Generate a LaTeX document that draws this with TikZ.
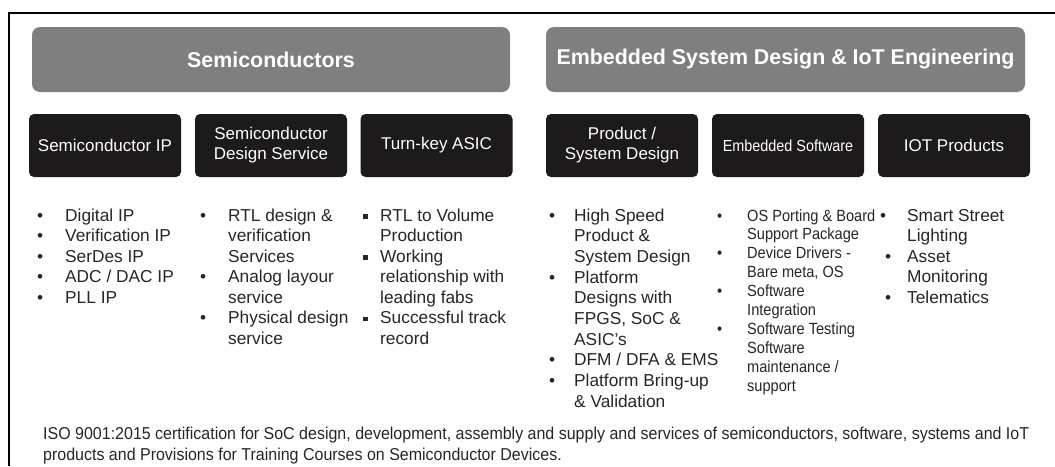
\documentclass[tikz,border=0pt]{standalone}
\usepackage{fontspec}
\setmainfont{Liberation Sans}
\newfontfamily\narrowfont{Liberation Sans}[FakeStretch=0.9]
\newfontfamily\notefont{Liberation Sans}[FakeStretch=0.93]
\definecolor{headgray}{HTML}{7F7F7F}
\definecolor{boxblack}{HTML}{1C1A1A}
\definecolor{txtgray}{HTML}{262626}
\newcommand{\sqbul}{\rule[2.5pt]{4.5pt}{4.5pt}}

\begin{document}
\begin{tikzpicture}[head/.style={fill=headgray, rounded corners=8pt, minimum width=478pt, minimum height=65pt, text=white, font=\fontsize{21.4}{25}\selectfont\bfseries}, tab/.style={fill=boxblack, rounded corners=5pt, minimum width=152pt, minimum height=63pt, text=white, align=center, font=\fontsize{17}{20}\selectfont}, list/.style={anchor=base west, inner sep=0pt, text=txtgray, font=\fontsize{17.3}{20.5}\selectfont}, note/.style={anchor=base west, inner sep=0pt, text=txtgray, font=\notefont\fontsize{17.2}{21}\selectfont}]
  \useasboundingbox (0pt, 0pt) rectangle (1055pt, -466pt);
  \draw[line width=2pt] (9pt, -466pt) -- (9pt, -13pt) -- (1055pt, -13pt);

  \draw (271.0pt, -59.5pt)node[head](semi){Semiconductors};
  \draw (785.5pt, -59.5pt)node[head, minimum width=479pt](embed){Embedded System Design \& IoT Engineering};

  \draw (105.0pt, -145.5pt)node[tab](ip){Semiconductor IP};
  \draw (271.0pt, -145.5pt)node[tab](dsvc){Semiconductor\\Design Service};
  \draw (436.5pt, -145.5pt)node[tab](asic){Turn-key ASIC};
  \draw (622.0pt, -145.5pt)node[tab](prod){Product /\\System Design};
  \draw (788.0pt, -145.5pt)node[tab, font=\narrowfont\fontsize{16}{19}\selectfont](esw){Embedded Software};
  \draw (954.0pt, -145.5pt)node[tab](iot){IOT Products};

  \draw (37.0pt, -221.0pt)node[list](ipl){\begin{tabular}[t]{@{}p{28pt}@{}l@{}}
    \textbullet & Digital IP\\
    \textbullet & Verification IP\\
    \textbullet & SerDes IP\\
    \textbullet & ADC / DAC IP\\
    \textbullet & PLL IP\\
  \end{tabular}};
  \draw (200.0pt, -221.0pt)node[list](dsvcl){\begin{tabular}[t]{@{}p{28pt}@{}l@{}}
    \textbullet & RTL design \&\\
    & verification\\
    & Services\\
    \textbullet & Analog layour\\
    & service\\
    \textbullet & Physical design\\
    & service\\
  \end{tabular}};
  \draw (363.0pt, -221.0pt)node[list](asicl){\begin{tabular}[t]{@{}p{17pt}@{}l@{}}
    \sqbul & RTL to Volume\\
    & Production\\
    \sqbul & Working\\
    & relationship with\\
    & leading fabs\\
    \sqbul & Successful track\\
    & record\\
  \end{tabular}};
  \draw (549.0pt, -221.0pt)node[list, font=\fontsize{17.3}{20.7}\selectfont](prodl){\begin{tabular}[t]{@{}p{25pt}@{}l@{}}
    \textbullet & High Speed\\
    & Product \&\\
    & System Design\\
    \textbullet & Platform\\
    & Designs with\\
    & FPGS, SoC \&\\
    & ASIC's\\
    \textbullet & DFM / DFA \& EMS\\
    \textbullet & Platform Bring-up\\
    & \& Validation\\
  \end{tabular}};
  \draw (717.0pt, -221.0pt)node[list, font=\narrowfont\fontsize{16.2}{18.9}\selectfont](eswl){\begin{tabular}[t]{@{}p{30pt}@{}l@{}}
    \textbullet & OS Porting \& Board\\
    & Support Package\\
    \textbullet & Device Drivers -\\
    & Bare meta, OS\\
    \textbullet & Software\\
    & Integration\\
    \textbullet & Software Testing\\
    & Software\\
    & maintenance /\\
    & support\\
  \end{tabular}};
  \draw (885.0pt, -221.0pt)node[list](iotl){\begin{tabular}[t]{@{}p{22pt}@{}l@{}}
    \hspace*{-5pt}\textbullet & Smart Street\\
    & Lighting\\
    \textbullet & Asset\\
    & Monitoring\\
    \textbullet & Telematics\\
  \end{tabular}};

  \draw (43.0pt, -439.0pt)node[note](iso){\begin{tabular}[t]{@{}l@{}}
    ISO 9001:2015 certification for SoC design, development, assembly and supply and services of semiconductors, software, systems and IoT\\
    products and Provisions for Training Courses on Semiconductor Devices.
  \end{tabular}};
\end{tikzpicture}
\end{document}
